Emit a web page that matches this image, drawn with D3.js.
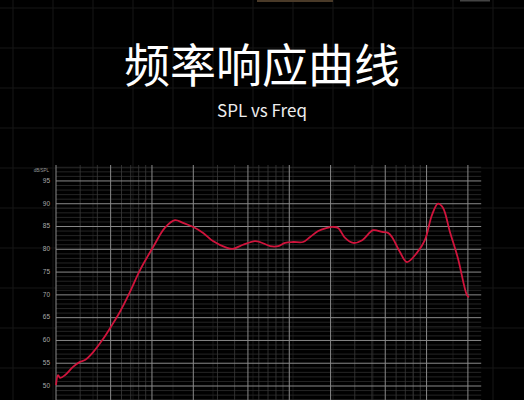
<!DOCTYPE html>
<html>
<head>
<meta charset="utf-8">
<script src="https://cdn.jsdelivr.net/npm/d3@7"></script>
<style>
html,body{margin:0;padding:0;background:#000;}
svg{display:block;}
</style>
</head>
<body>
<svg id="c" width="524" height="400"></svg>
<script>
const titleText = "频率响应曲线";
const subtitleText = "SPL vs Freq";
const yUnitLabel = "dB/SPL";
const yTicks = [50, 55, 60, 65, 70, 75, 80, 85, 90, 95];
const xMajorTicks = [20, 50, 100, 200, 500, 1000, 2000, 5000, 10000, 20000];
const freqHz = [20, 20.7, 21.4, 23.3, 26.6, 29.9, 32.5, 37.2, 44, 50, 58.5, 69, 82, 102, 124, 147, 168, 200, 236, 278, 352, 388, 460, 562, 612, 726, 830, 932, 1066, 1260, 1418, 1624, 1886, 2086, 2267, 2550, 2920, 3400, 4080, 4740, 5240, 5600, 6400, 7200, 8500, 9720, 10940, 12120, 13160, 14800, 16900, 19660, 20340];
const splDb = [50.2, 52.4, 51.8, 52.4, 54.2, 55.3, 55.7, 57.4, 60.3, 62.9, 66.3, 70.6, 75.5, 80.5, 84.7, 86.4, 85.8, 84.9, 83.6, 81.8, 80.3, 80.1, 81.0, 81.8, 81.6, 80.7, 80.7, 81.4, 81.6, 81.6, 82.7, 84.0, 84.7, 84.9, 84.7, 82.5, 81.4, 82.0, 84.2, 83.8, 83.6, 82.7, 79.4, 77.2, 79.2, 82.0, 87.5, 90.0, 89.1, 83.8, 78.1, 70.0, 69.5];

const W = 524, H = 400;
const svg = d3.select("#c");

// background
svg.append("rect").attr("width", W).attr("height", H).attr("fill", "#000");
// faint page grid
const bg = svg.append("g");
d3.range(13, W, 40).forEach(x => bg.append("line").attr("x1", x).attr("x2", x).attr("y1", 0).attr("y2", H).attr("stroke", "#171717").attr("stroke-width", 1));
d3.range(8, H, 40).forEach(y => bg.append("line").attr("x1", 0).attr("x2", W).attr("y1", y).attr("y2", y).attr("stroke", "#171717").attr("stroke-width", 1));
// top decoration strip
svg.append("rect").attr("x", 257).attr("y", 0).attr("width", 76).attr("height", 2).attr("fill", "#4a3a28");
svg.append("rect").attr("x", 460).attr("y", 0).attr("width", 30).attr("height", 1.5).attr("fill", "#444");

// titles
svg.append("text").attr("x", 262).attr("y", 82).attr("text-anchor", "middle")
  .attr("font-family", "'Noto Sans CJK SC','Noto Sans',sans-serif").attr("font-size", 46).attr("fill", "#fff")
  .text(titleText);
svg.append("text").attr("x", 262).attr("y", 117).attr("text-anchor", "middle")
  .attr("font-family", "'Noto Sans CJK SC','Noto Sans',sans-serif").attr("font-size", 17).attr("fill", "#eee")
  .text(subtitleText);

// scales
const x = d3.scaleLog().domain([20, 25000]).range([56, 56 + 137.3 * Math.log10(25000 / 20)]);
const y = d3.scaleLinear().domain([45, 98.5]).range([408.8, 165]);

const plotTop = 165, plotBottom = H;
const g = svg.append("g");

// minor horizontal grid every 1 dB
d3.range(46, 99, 1).filter(v => v % 5 !== 0).forEach(v => {
  g.append("line").attr("x1", x.range()[0]).attr("x2", x.range()[1]).attr("y1", y(v)).attr("y2", y(v))
    .attr("stroke", "#2e2e2e").attr("stroke-width", 0.8);
});
// minor vertical grid (log)
const minorF = [];
[10, 100, 1000, 10000].forEach(d => { for (let k = 1; k <= 9; k++) { const f = d * k; if (f >= 20 && f <= 25000 && !xMajorTicks.includes(f)) minorF.push(f); } });
minorF.forEach(f => {
  g.append("line").attr("x1", x(f)).attr("x2", x(f)).attr("y1", plotTop).attr("y2", plotBottom)
    .attr("stroke", "#3a3a3a").attr("stroke-width", 0.8);
});
// major horizontal grid
yTicks.concat([45]).forEach(v => {
  g.append("line").attr("x1", x.range()[0]).attr("x2", x.range()[1]).attr("y1", y(v)).attr("y2", y(v))
    .attr("stroke", "#8a8a8a").attr("stroke-width", 1);
});
// major vertical grid
xMajorTicks.forEach(f => {
  g.append("line").attr("x1", x(f)).attr("x2", x(f)).attr("y1", plotTop).attr("y2", plotBottom)
    .attr("stroke", "#8a8a8a").attr("stroke-width", 1);
});

// y axis labels
const yAxis = d3.axisLeft(y).tickValues(yTicks).tickSize(0).tickPadding(0);
const ya = svg.append("g").attr("transform", "translate(50,0)").call(yAxis);
ya.select(".domain").remove();
ya.selectAll("text").attr("fill", "#aaa").attr("font-family", "Arial, 'Liberation Sans', sans-serif").attr("font-size", 6.5).attr("dy", "0.2em");
svg.append("text").attr("x", 49).attr("y", 172).attr("text-anchor", "end")
  .attr("font-family", "Arial, 'Liberation Sans', sans-serif").attr("font-size", 4.5).attr("fill", "#999").text(yUnitLabel);

// curve
const data = freqHz.map((f, i) => [f, splDb[i]]);
const line = d3.line().x(d => x(d[0])).y(d => y(d[1])).curve(d3.curveCatmullRom.alpha(0.5));
svg.append("path").datum(data).attr("d", line).attr("fill", "none")
  .attr("stroke", "#d0143c").attr("stroke-width", 1.8).attr("stroke-linejoin", "round");
</script>
</body>
</html>
